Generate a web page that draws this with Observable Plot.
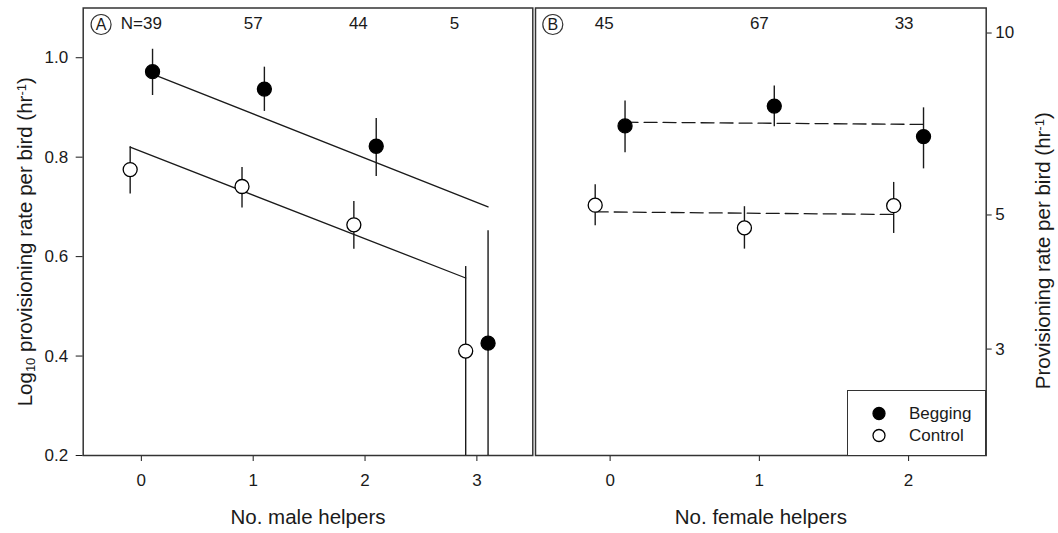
<!DOCTYPE html>
<html>
<head>
<meta charset="utf-8">
<script src="https://cdn.jsdelivr.net/npm/d3@7"></script>
<script src="https://cdn.jsdelivr.net/npm/@observablehq/plot@0.6"></script>
<style>
  html, body { margin: 0; padding: 0; background: #fff; }
  #wrap { position: relative; width: 1058px; height: 533px; overflow: hidden; background: #fff;
          font-family: "Liberation Sans", Arial, sans-serif; color: #111; }
  #panelA { position: absolute; left: 0; top: 0; }
  #panelB { position: absolute; left: 534px; top: 0; }
  #legend { position: absolute; left: 846.5px; top: 389.5px; width: 137px; height: 64px;
            border: 1.5px solid #333; background: #fff; }
</style>
</head>
<body>
<div id="wrap">
  <div id="panelA"></div>
  <div id="panelB"></div>
  <div id="legend"></div>
</div>
<script>
// ---------------- data ----------------
const treatments = ["Begging", "Control"];

// Panel A: log10 provisioning rate vs number of male helpers
const maleHelpers = [0, 1, 2, 3];
const maleN = ["N=39", "57", "44", "5"];
const maleNPos = [0, 1, 1.94, 2.8];
const begMale   = [0.972, 0.937, 0.822, 0.426];
const begMaleLo = [0.924, 0.892, 0.761, 0.2];
const begMaleHi = [1.017, 0.981, 0.878, 0.652];
const ctlMale   = [0.775, 0.741, 0.664, 0.410];
const ctlMaleLo = [0.726, 0.698, 0.615, 0.2];
const ctlMaleHi = [0.821, 0.779, 0.711, 0.580];
const begMaleFit = [0.967, 0.700];   // fitted at 0 and 3 helpers
const ctlMaleFit = [0.820, 0.557];
const maleTicksY = [0.2, 0.4, 0.6, 0.8, 1.0];

// Panel B: provisioning rate (hr^-1) vs number of female helpers
const femaleHelpers = [0, 1, 2];
const femaleN = ["45", "67", "33"];
const femaleNPos = [-0.04, 1.0, 1.97];
const begFem   = [7.02, 7.57, 6.74];
const begFemLo = [6.34, 7.00, 5.96];
const begFemHi = [7.72, 8.17, 7.52];
const ctlFem   = [5.19, 4.76, 5.18];
const ctlFemLo = [4.80, 4.39, 4.66];
const ctlFemHi = [5.61, 5.16, 5.66];
const begFemFit = [7.12, 7.06];      // fitted at 0 and 2 helpers
const ctlFemFit = [5.06, 5.01];
const femaleTicksY = [3, 5, 10];

// ---------------- helpers ----------------
const dodge = {Begging: 0.1, Control: -0.1};
const ink = "#1a1a1a";
const fillOf = d => d.treat === "Begging" ? "#000" : "#fff";

function rows(xs, beg, begLo, begHi, ctl, ctlLo, ctlHi) {
  return xs.flatMap((x, i) => [
    {treat: "Begging", x: x + dodge.Begging, y: beg[i], lo: begLo[i], hi: begHi[i]},
    {treat: "Control", x: x + dodge.Control, y: ctl[i], lo: ctlLo[i], hi: ctlHi[i]}
  ]);
}
function fits(xs, begFit, ctlFit) {
  const a = xs[0], b = xs[xs.length - 1];
  return [
    {treat: "Begging", x: a + dodge.Begging, y: begFit[0]},
    {treat: "Begging", x: b + dodge.Begging, y: begFit[1]},
    {treat: "Control", x: a + dodge.Control, y: ctlFit[0]},
    {treat: "Control", x: b + dodge.Control, y: ctlFit[1]}
  ];
}

const rowsA = rows(maleHelpers, begMale, begMaleLo, begMaleHi, ctlMale, ctlMaleLo, ctlMaleHi);
const fitA = fits(maleHelpers, begMaleFit, ctlMaleFit);
const labA = maleN.map((t, i) => ({x: maleNPos[i], t}));

const rowsB = rows(femaleHelpers, begFem, begFemLo, begFemHi, ctlFem, ctlFemLo, ctlFemHi);
const fitB = fits(femaleHelpers, begFemFit, ctlFemFit);
const labB = femaleN.map((t, i) => ({x: femaleNPos[i], t}));

const baseStyle = {
  fontFamily: '"Liberation Sans", Arial, sans-serif',
  fontSize: "17px",
  background: "transparent",
  color: ink,
  overflow: "visible"
};

// ---------------- panel A ----------------
const plotA = Plot.plot({
  width: 534, height: 533,
  marginLeft: 82.7, marginRight: 1.7, marginTop: 7.5, marginBottom: 78,
  style: baseStyle,
  x: {domain: [-0.52, 3.5], ticks: maleHelpers, tickFormat: d => String(d),
      tickSize: 6, tickPadding: 12, label: null},
  y: {domain: [0.2, 1.1], ticks: maleTicksY, tickFormat: d3.format(".1f"),
      tickSize: 7, tickPadding: 8, label: null},
  marks: [
    Plot.frame({stroke: "#333", strokeWidth: 1.5}),
    Plot.line(fitA, {x: "x", y: "y", z: "treat", stroke: ink, strokeWidth: 1.3}),
    Plot.ruleX(rowsA, {x: "x", y1: "lo", y2: "hi", stroke: ink, strokeWidth: 1.4}),
    Plot.dot(rowsA, {x: "x", y: "y", r: 7, fill: fillOf, stroke: "#000", strokeWidth: 1.3}),
    Plot.text(labA, {x: "x", text: "t", frameAnchor: "top", lineAnchor: "middle", dy: 16, fontSize: 17, fill: ink}),
    Plot.dot(["A"], {x: () => -0.36, frameAnchor: "top", dy: 16.5, r: 10, fill: "none", stroke: "#333", strokeWidth: 1.2}),
    Plot.text(["A"], {x: () => -0.36, text: d => d, frameAnchor: "top", lineAnchor: "middle", textAnchor: "middle", dy: 16.5, fontSize: 16, fill: ink}),
    Plot.text(["No. male helpers"], {frameAnchor: "bottom", lineAnchor: "middle", textAnchor: "middle", dy: 62, fontSize: 20.5, fill: ink}),
    Plot.text(["Log10 provisioning rate per bird (hr-1)"], {frameAnchor: "left", textAnchor: "middle", lineAnchor: "middle", dx: -57.7, dy: 10, rotate: -90, fontSize: 20.5, fill: ink})
  ]
});

// ---------------- panel B ----------------
const plotB = Plot.plot({
  width: 524, height: 533,
  marginLeft: 1, marginRight: 72.3, marginTop: 7.5, marginBottom: 78,
  style: baseStyle,
  x: {domain: [-0.5, 2.52], ticks: femaleHelpers, tickFormat: d => String(d),
      tickSize: 6, tickPadding: 12, label: null},
  y: {type: "log", domain: [2, 11], ticks: femaleTicksY, tickFormat: d => String(d),
      axis: "right", tickSize: 5, tickPadding: 4, label: null},
  marks: [
    Plot.frame({stroke: "#333", strokeWidth: 1.5}),
    Plot.line(fitB, {x: "x", y: "y", z: "treat", stroke: ink, strokeWidth: 1.3, strokeDasharray: "13,6"}),
    Plot.ruleX(rowsB, {x: "x", y1: "lo", y2: "hi", stroke: ink, strokeWidth: 1.4}),
    Plot.dot(rowsB, {x: "x", y: "y", r: 7, fill: fillOf, stroke: "#000", strokeWidth: 1.3}),
    Plot.text(labB, {x: "x", text: "t", frameAnchor: "top", lineAnchor: "middle", dy: 16, fontSize: 17, fill: ink}),
    Plot.dot(["B"], {x: () => -0.384, frameAnchor: "top", dy: 16.5, r: 10, fill: "none", stroke: "#333", strokeWidth: 1.2}),
    Plot.text(["B"], {x: () => -0.384, text: d => d, frameAnchor: "top", lineAnchor: "middle", textAnchor: "middle", dy: 16.5, fontSize: 16, fill: ink}),
    Plot.text(["No. female helpers"], {frameAnchor: "bottom", lineAnchor: "middle", textAnchor: "middle", dy: 62, fontSize: 20.5, fill: ink}),
    Plot.text(["Provisioning rate per bird (hr-1)"], {frameAnchor: "right", textAnchor: "middle", lineAnchor: "middle", dx: 57.3, dy: 19, rotate: -90, fontSize: 20.5, fill: ink})
  ]
});

// sub/superscripts as real text
function richify(svg) {
  svg.querySelectorAll("text").forEach(t => {
    const s = t.textContent;
    if (!/Log10|hr-1/.test(s)) return;
    const ns = "http://www.w3.org/2000/svg";
    t.textContent = "";
    s.split(/(Log10|hr-1)/).forEach(part => {
      if (!part) return;
      if (part === "Log10" || part === "hr-1") {
        const base = document.createElementNS(ns, "tspan");
        base.textContent = part === "Log10" ? "Log" : "hr";
        t.appendChild(base);
        const sc = document.createElementNS(ns, "tspan");
        sc.textContent = part === "Log10" ? "10" : "-1";
        sc.setAttribute("font-size", "13");
        sc.setAttribute("baseline-shift", part === "Log10" ? "-25%" : "45%");
        t.appendChild(sc);
      } else {
        const tp = document.createElementNS(ns, "tspan");
        tp.textContent = part;
        t.appendChild(tp);
      }
    });
  });
}
richify(plotA);
richify(plotB);

document.getElementById("panelA").appendChild(plotA);
document.getElementById("panelB").appendChild(plotB);

// ---------------- legend ----------------
const lg = d3.select("#legend").append("svg").attr("width", 137).attr("height", 64)
  .style("font-family", '"Liberation Sans", Arial, sans-serif').style("font-size", "17px");
treatments.forEach((tr, i) => {
  const g = lg.append("g").attr("transform", `translate(0,${22.5 + i * 22})`);
  g.append("circle").attr("cx", 31).attr("cy", 0).attr("r", 6)
    .attr("fill", tr === "Begging" ? "#000" : "#fff").attr("stroke", "#000").attr("stroke-width", 1.3);
  g.append("text").attr("x", 61).attr("y", 0).attr("dy", "0.35em").attr("fill", ink).text(tr);
});
</script>
</body>
</html>
